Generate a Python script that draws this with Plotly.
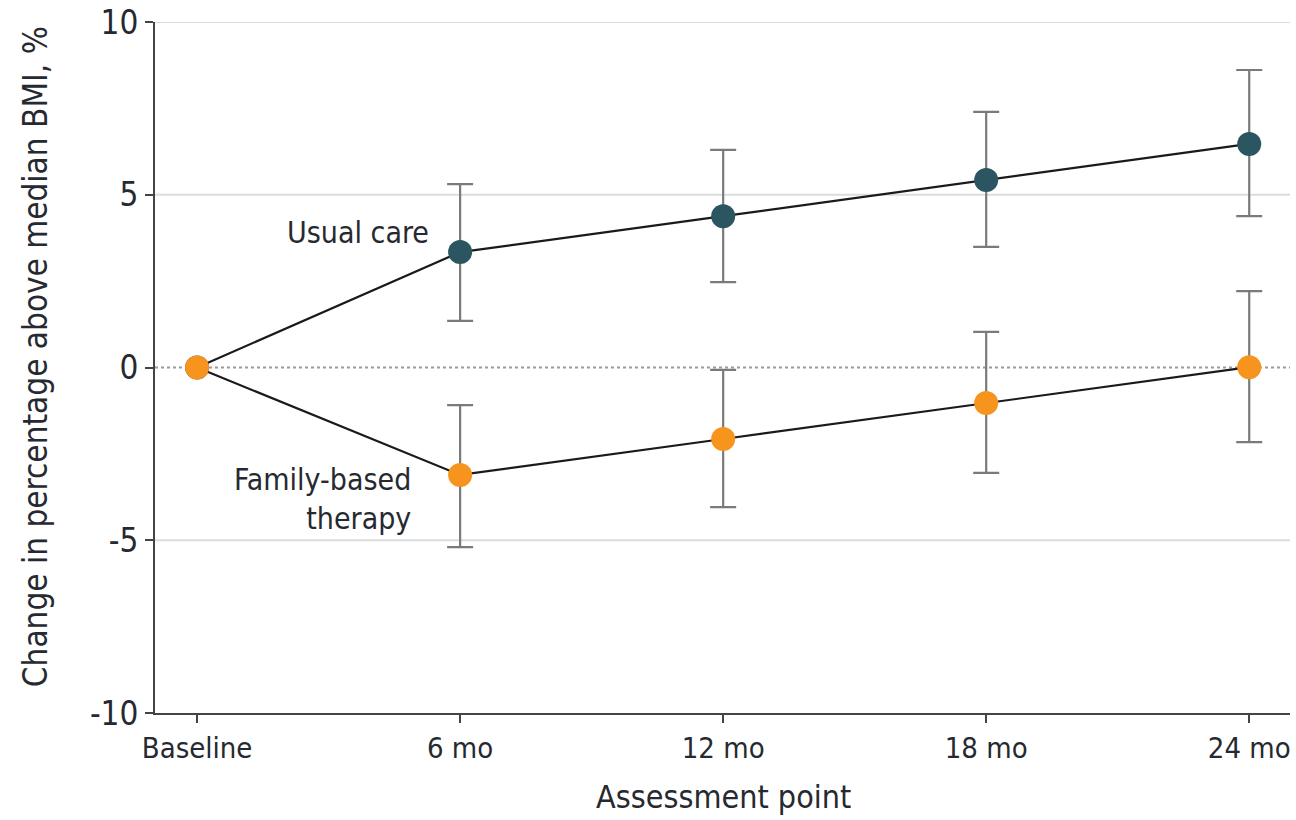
import plotly.graph_objects as go

categories = ["Baseline", "6 mo", "12 mo", "18 mo", "24 mo"]
x_pos = [0, 1, 2, 3, 4]

usual_mean = [0, 3.34, 4.38, 5.43, 6.47]
usual_upper = [0, 5.31, 6.30, 7.40, 8.61]
usual_lower = [0, 1.35, 2.47, 3.49, 4.38]

fbt_mean = [0, -3.11, -2.07, -1.03, 0.01]
fbt_upper = [0, -1.09, -0.07, 1.03, 2.21]
fbt_lower = [0, -5.20, -4.04, -3.05, -2.16]

y_ticks = [-10, -5, 0, 5, 10]

FONT = "Liberation Sans Narrow, Arial Narrow, DejaVu Sans Condensed, sans-serif"
TEAL = "#2b5561"
ORANGE = "#f7941d"
TXT = "#262a30"

fig = go.Figure()

# gridlines
for v in [10, 5, -5]:
    fig.add_shape(type="line", xref="paper", yref="y", x0=0, x1=1, y0=v, y1=v,
                  line=dict(color="#dcdcdc", width=2), layer="below")
fig.add_shape(type="line", xref="paper", yref="y", x0=0, x1=1, y0=0, y1=0,
              line=dict(color="#9a9a9a", width=2, dash="dot"), layer="below")

def add_series(mean, upper, lower, color, name):
    plus = [u - m for u, m in zip(upper, mean)]
    minus = [m - l for m, l in zip(mean, lower)]
    fig.add_trace(go.Scatter(
        x=x_pos[1:], y=mean[1:], mode="markers",
        marker=dict(size=1, color="rgba(0,0,0,0)"),
        error_y=dict(type="data", symmetric=False, array=plus[1:], arrayminus=minus[1:],
                     color="#7a7a7a", thickness=2.2, width=13),
        showlegend=False, hoverinfo="skip"))
    fig.add_trace(go.Scatter(
        x=x_pos, y=mean, mode="lines+markers", name=name,
        line=dict(color="#1a1a1a", width=2.2),
        marker=dict(size=24, color=color),
        showlegend=False))

add_series(usual_mean, usual_upper, usual_lower, TEAL, "Usual care")
add_series(fbt_mean, fbt_upper, fbt_lower, ORANGE, "Family-based therapy")

fig.add_annotation(x=0.89, y=3.9, xref="x", yref="y", text="Usual care",
                   showarrow=False, xanchor="right", yanchor="middle",
                   font=dict(family=FONT, size=30, color=TXT))
fig.add_annotation(x=0.82, y=-3.8, xref="x", yref="y", text="Family-based<br>therapy",
                   showarrow=False, xanchor="right", yanchor="middle", align="right",
                   font=dict(family=FONT, size=30, color=TXT))

# axis titles
fig.add_annotation(x=-0.1057, y=0.515, xref="paper", yref="paper",
                   text="Change in percentage above median BMI, %", textangle=-90,
                   showarrow=False, xanchor="center", yanchor="middle",
                   font=dict(family=FONT, size=33, color=TXT))
fig.add_annotation(x=2, y=-0.122, xref="x", yref="paper",
                   text="Assessment point",
                   showarrow=False, xanchor="center", yanchor="middle",
                   font=dict(family=FONT, size=32, color=TXT))

fig.update_layout(
    width=1296, height=820,
    margin=dict(l=155, r=6, t=22, b=107),
    plot_bgcolor="white", paper_bgcolor="white",
    font=dict(family=FONT, size=30, color=TXT),
    xaxis=dict(
        range=[-0.16, 4.155], tickmode="array", tickvals=x_pos, ticktext=categories,
        showgrid=False, zeroline=False, showline=True, linecolor="#444444", linewidth=2,
        ticks="outside", ticklen=8, tickwidth=2, tickcolor="#444444",
        tickfont=dict(size=29, color=TXT), automargin=False, ticklabeloverflow="allow",
    ),
    yaxis=dict(
        range=[-10, 10], tickmode="array", tickvals=y_ticks,
        ticktext=[str(v) for v in y_ticks],
        showgrid=False, zeroline=False, showline=True, linecolor="#444444", linewidth=2,
        ticks="outside", ticklen=8, tickwidth=2, tickcolor="#444444",
        tickfont=dict(size=33, color=TXT), automargin=False, ticklabeloverflow="allow",
    ),
)

# remove the page's default body margin so the figure fills the window exactly
fig.write_html("out.html", config={"displayModeBar": False},
               post_script="document.body.style.margin='0';")
